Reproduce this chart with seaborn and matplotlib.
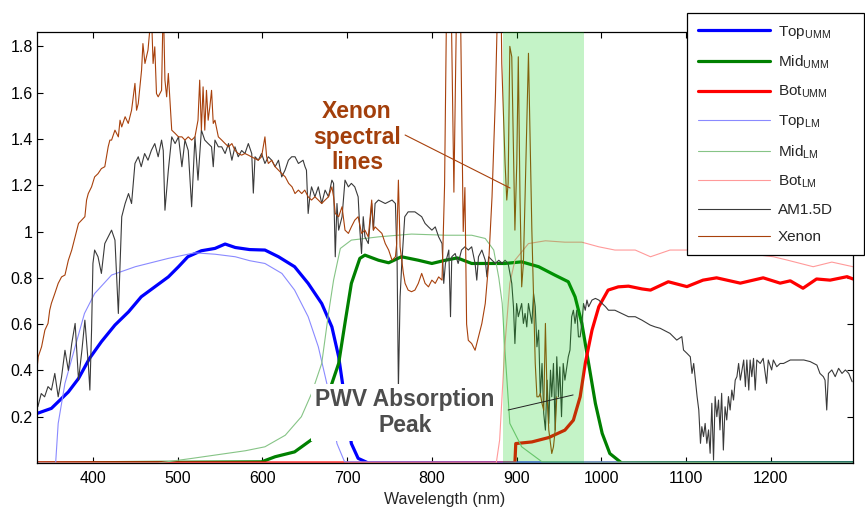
import matplotlib
matplotlib.use("Agg")
import matplotlib.pyplot as plt
import seaborn as sns
import numpy as np
import pandas as pd

# ---------------- data ----------------
top_umm_wl = [334, 351, 371, 383, 396, 410, 426, 442, 457, 473, 489, 501, 512, 528, 544, 556, 568, 585, 603, 619,
              638, 654, 670, 682, 690, 694, 705, 713, 725, 1297]
top_umm_val = [0.214, 0.236, 0.307, 0.365, 0.452, 0.524, 0.596, 0.653, 0.718, 0.761, 0.804, 0.848, 0.891, 0.917,
               0.927, 0.946, 0.931, 0.922, 0.920, 0.891, 0.848, 0.776, 0.689, 0.588, 0.459, 0.358, 0.084, 0.020,
               0.0, 0.0]

mid_umm_wl = [334, 599, 615, 638, 660, 690, 698, 705, 715, 721, 737, 749, 764, 784, 800, 816, 830, 847, 867, 886,
              906, 926, 945, 961, 969, 977, 985, 993, 1001, 1010, 1024, 1297]
mid_umm_val = [0, 0.005, 0.027, 0.048, 0.106, 0.43, 0.617, 0.776, 0.884, 0.898, 0.876, 0.865, 0.891, 0.876, 0.862,
               0.876, 0.886, 0.862, 0.862, 0.862, 0.869, 0.848, 0.812, 0.783, 0.718, 0.603, 0.43, 0.257, 0.128,
               0.041, 0, 0]

bot_umm_wl = [334, 898, 899, 918, 938, 957, 967, 975, 981, 989, 997, 1008, 1020, 1032, 1048, 1058, 1079, 1101,
              1120, 1136, 1164, 1191, 1211, 1223, 1238, 1254, 1270, 1290, 1297]
bot_umm_val = [0, 0, 0.084, 0.091, 0.11, 0.142, 0.185, 0.286, 0.43, 0.574, 0.675, 0.747, 0.761, 0.764, 0.752,
               0.747, 0.783, 0.762, 0.79, 0.80, 0.777, 0.80, 0.777, 0.787, 0.755, 0.795, 0.79, 0.805, 0.795]

top_lm_wl = [334, 356, 359, 367, 379, 390, 402, 422, 450, 489, 520, 544, 568, 585, 603, 623, 638, 654, 666, 676,
             688, 697, 1297]
top_lm_val = [0, 0, 0.171, 0.344, 0.502, 0.646, 0.732, 0.812, 0.848, 0.884, 0.908, 0.902, 0.891, 0.874, 0.862,
              0.819, 0.747, 0.632, 0.502, 0.344, 0.084, 0.005, 0]

mid_lm_wl = [334, 477, 517, 580, 603, 627, 646, 658, 670, 678, 684, 692, 705, 737, 776, 816, 833, 847, 863, 873,
             879, 883, 886, 892, 906, 930, 1297]
mid_lm_val = [0, 0, 0.02, 0.053, 0.07, 0.12, 0.20, 0.30, 0.43, 0.646, 0.79, 0.927, 0.963, 0.977, 0.989, 0.984,
              0.984, 0.984, 0.97, 0.92, 0.80, 0.69, 0.50, 0.171, 0.07, 0.005, 0]

bot_lm_wl = [334, 876, 880, 886, 892, 898, 914, 934, 957, 977, 997, 1016, 1040, 1058, 1081, 1120, 1160, 1203,
             1219, 1250, 1272, 1297]
bot_lm_val = [0, 0, 0.1, 0.5, 0.776, 0.876, 0.948, 0.96, 0.954, 0.954, 0.934, 0.92, 0.92, 0.891, 0.92, 0.92, 0.91,
              0.891, 0.877, 0.848, 0.868, 0.848]

am_wl = [335, 339, 343, 347, 351, 355, 359, 363, 367, 371,
         375, 379, 383, 387, 390.5, 394.5, 396.4, 398.4, 400, 402,
         406, 410, 414, 418, 422, 426, 430, 432, 434, 438,
         442, 445.6, 449.6, 453.5, 457, 461, 465, 469, 473, 477,
         481, 483, 485, 489, 493, 497, 501, 505, 508.6, 512.5,
         516.5, 520.4, 524, 528, 532, 536, 540, 542, 544, 548,
         552, 556, 560, 564, 567.6, 571.5, 575.5, 579.4, 583.4, 587.4,
         589.3, 591.3, 595.2, 599, 603, 607, 611, 615, 619, 622.8,
         626.7, 630.7, 634.6, 638.5, 642.5, 648, 650.3, 652, 654, 656,
         658, 662, 666, 670, 674, 678, 682, 684, 686, 688,
         690, 694, 697.5, 701.5, 705, 709, 713, 715, 717, 719,
         721, 725, 729, 731, 733, 737, 745, 753, 757, 759,
         760.5, 762.5, 764.5, 768, 772, 780, 788, 792, 796, 800,
         804, 808, 812, 814, 816, 820, 822, 823.5, 827.5, 831,
         835, 839, 843, 847, 851, 853, 855, 859, 863, 865,
         867, 871, 875, 879, 883, 886.4, 890, 894.3, 896.3, 898,
         900, 902, 906, 908, 910, 912, 914, 918, 920, 922,
         924, 926, 928, 930, 932, 934, 936, 938, 940, 941.5,
         943.5, 945.5, 947.4, 949.4, 951, 953, 955, 957, 961, 963,
         965, 967, 969, 971, 973, 975, 977, 979, 981, 983,
         985, 989, 993, 997, 1001, 1005, 1008.4, 1016, 1024, 1032,
         1040, 1048, 1057.6, 1063.5, 1069.4, 1081, 1089, 1095, 1097, 1101,
         1105, 1107, 1109, 1113, 1115, 1117, 1118.6, 1120.6, 1122.5, 1124.5,
         1126.5, 1128.4, 1130.4, 1132.4, 1134.3, 1136.3, 1138.3, 1140, 1142, 1144,
         1146, 1148, 1150, 1152, 1154, 1156, 1158, 1160, 1162, 1164,
         1168, 1170, 1171.7, 1174, 1175.6, 1177.6, 1179.6, 1181.6, 1183.5, 1187.5,
         1191, 1195, 1197, 1201, 1203, 1207, 1211, 1215, 1223, 1231,
         1239, 1246.5, 1254.4, 1258, 1262, 1264, 1266, 1268, 1272, 1276,
         1280, 1284, 1288, 1292, 1296]
am_val = [0.243, 0.30, 0.286, 0.33, 0.315, 0.387, 0.286, 0.372, 0.487, 0.40,
          0.516, 0.603, 0.358, 0.487, 0.617, 0.43, 0.315, 0.574, 0.862, 0.92,
          0.891, 0.819, 0.948, 0.977, 1.006, 0.963, 0.646, 0.862, 1.064, 1.121,
          1.164, 1.121, 1.294, 1.323, 1.28, 1.337, 1.308, 1.351, 1.38, 1.323,
          1.395, 1.35, 1.092, 1.265, 1.409, 1.38, 1.409, 1.28, 1.395, 1.35,
          1.107, 1.409, 1.222, 1.438, 1.395, 1.38, 1.366, 1.28, 1.395, 1.366,
          1.366, 1.337, 1.38, 1.308, 1.366, 1.323, 1.35, 1.337, 1.38, 1.337,
          1.166, 1.323, 1.308, 1.337, 1.294, 1.323, 1.308, 1.28, 1.308, 1.236,
          1.265, 1.308, 1.323, 1.323, 1.294, 1.308, 1.28, 1.265, 1.078, 1.15,
          1.193, 1.15, 1.193, 1.121, 1.179, 1.15, 1.222, 1.208, 0.891, 1.121,
          1.006, 1.064, 1.222, 1.193, 1.208, 1.193, 1.15, 1.006, 0.905, 1.064,
          0.977, 0.948, 1.121, 1.006, 1.121, 1.136, 1.121, 1.136, 1.121, 0.862,
          0.32, 0.718, 0.862, 1.064, 1.085, 1.085, 1.064, 1.035, 1.02, 1.006,
          1.02, 0.977, 0.948, 0.776, 0.862, 0.92, 0.632, 0.891, 0.905, 0.862,
          0.92, 0.934, 0.92, 0.934, 0.862, 0.79, 0.891, 0.92, 0.876, 0.804,
          0.891, 0.876, 0.862, 0.876, 0.862, 0.876, 0.862, 0.776, 0.675, 0.516,
          0.689, 0.632, 0.689, 0.603, 0.646, 0.588, 0.689, 0.603, 0.732, 0.675,
          0.502, 0.574, 0.286, 0.43, 0.214, 0.142, 0.358, 0.171, 0.401, 0.286,
          0.43, 0.142, 0.459, 0.286, 0.415, 0.20, 0.43, 0.358, 0.459, 0.488,
          0.632, 0.66, 0.603, 0.66, 0.545, 0.545, 0.603, 0.689, 0.66, 0.704,
          0.675, 0.704, 0.711, 0.704, 0.689, 0.675, 0.66, 0.66, 0.646, 0.632,
          0.632, 0.617, 0.596, 0.588, 0.582, 0.56, 0.531, 0.546, 0.488, 0.474,
          0.459, 0.387, 0.43, 0.287, 0.229, 0.085, 0.157, 0.114, 0.171, 0.085,
          0.143, 0.042, 0.258, 0.013, 0.287, 0.20, 0.272, 0.143, 0.301, 0.056,
          0.243, 0.186, 0.287, 0.229, 0.315, 0.272, 0.358, 0.373, 0.43, 0.358,
          0.445, 0.33, 0.445, 0.315, 0.445, 0.373, 0.452, 0.315, 0.445, 0.43,
          0.452, 0.344, 0.445, 0.402, 0.445, 0.416, 0.43, 0.43, 0.445, 0.445,
          0.445, 0.438, 0.423, 0.387, 0.373, 0.358, 0.229, 0.387, 0.402, 0.373,
          0.409, 0.387, 0.402, 0.387, 0.351]

xe_wl = [333.5, 335.4, 339.4, 343.3, 347, 349, 351, 355, 359, 363,
         367, 371, 375, 379, 383, 386.6, 390.5, 392.5, 394.5, 398.4,
         402, 406, 410, 414, 418, 420, 422, 426, 430, 432,
         434, 438, 441.7, 445.6, 449.6, 451.5, 453.5, 457.4, 459, 461.4,
         465, 469, 471, 473, 475, 477, 481, 483, 485, 487,
         489, 493, 497, 501, 505, 508.6, 512.5, 516.5, 520.4, 524,
         526, 528, 530, 532, 534, 536, 538, 540, 542, 544,
         548, 552, 556, 560, 564, 567.6, 571.5, 575.5, 579.4, 583.4,
         587, 595, 599, 603, 605, 607, 611, 615, 619, 623,
         627, 631, 635, 638.5, 642.5, 646.4, 650, 654, 658, 662,
         666, 670, 674, 678, 682, 684, 686, 690, 694, 697.5,
         701.5, 705, 709, 713, 717, 721, 725, 729, 731, 733,
         737, 741, 745, 749, 753, 757, 758.5, 760.5, 762.5, 764.5,
         766.4, 768.4, 772, 776, 780, 784, 788, 792, 796, 800,
         804, 808, 812, 815, 818, 822, 826, 830, 833, 837,
         839, 841, 843, 847, 851, 853, 855, 859, 863, 867,
         871, 875, 879, 881, 882.5, 886.4, 888.4, 890, 892, 894.3,
         898, 900.2, 902, 904, 906, 908, 910, 914, 918, 922,
         924, 926, 928, 930, 932, 934, 936, 938, 941.5, 943.5,
         945.5, 947.4]
xe_val = [0.387, 0.459, 0.502, 0.574, 0.603, 0.66, 0.69, 0.732, 0.776, 0.804,
          0.812, 0.876, 0.92, 0.977, 1.035, 1.049, 1.064, 1.136, 1.164, 1.193,
          1.236, 1.25, 1.272, 1.28, 1.366, 1.395, 1.395, 1.438, 1.409, 1.481,
          1.452, 1.496, 1.467, 1.524, 1.64, 1.524, 1.553, 1.697, 1.812, 1.726,
          1.784, 1.95, 1.726, 1.798, 1.596, 1.582, 1.61, 2.0, 1.654, 1.582,
          1.683, 1.438, 1.424, 1.409, 1.409, 1.395, 1.409, 1.395, 1.409, 1.481,
          1.654, 1.438, 1.625, 1.438, 1.61, 1.481, 1.539, 1.61, 1.467, 1.481,
          1.409, 1.395, 1.38, 1.366, 1.38, 1.351, 1.337, 1.33, 1.337, 1.33,
          1.323, 1.308, 1.323, 1.409, 1.323, 1.294, 1.308, 1.28, 1.265, 1.25,
          1.236, 1.208, 1.193, 1.164, 1.179, 1.164, 1.179, 1.15, 1.136, 1.15,
          1.136, 1.121, 1.136, 1.15, 1.193, 1.15, 1.078, 1.064, 1.107, 1.006,
          0.992, 1.02, 1.049, 1.064, 0.992, 1.006, 0.977, 1.136, 1.006, 1.02,
          1.006, 0.992, 0.948, 0.92, 0.876, 0.891, 0.948, 1.222, 0.934, 0.876,
          0.819, 0.776, 0.747, 0.74, 0.747, 0.776, 0.819, 0.776, 0.761, 0.79,
          0.776, 0.804, 0.79, 1.2, 2.2, 2.2, 1.17, 2.2, 2.2, 1.0,
          1.19, 0.6, 0.53, 0.516, 0.487, 0.516, 0.545, 0.603, 0.689, 0.862,
          1.15, 1.582, 2.2, 2.2, 1.726, 1.294, 1.136, 1.208, 1.80, 1.755,
          1.006, 1.294, 1.755, 1.15, 0.761, 0.862, 1.15, 1.77, 1.006, 0.43,
          0.286, 0.286, 0.30, 0.257, 0.228, 0.603, 0.286, 0.142, 0.041, 0.07,
          0.142, 0.286]

xticks = [400, 500, 600, 700, 800, 900, 1000, 1100, 1200]
yticks = [0.2, 0.4, 0.6, 0.8, 1.0, 1.2, 1.4, 1.6, 1.8]
ytick_labels = ["0.2", "0.4", "0.6", "0.8", "1", "1.2", "1.4", "1.6", "1.8"]

labels = [r"Top$_{\mathrm{UMM}}$", r"Mid$_{\mathrm{UMM}}$", r"Bot$_{\mathrm{UMM}}$",
          r"Top$_{\mathrm{LM}}$", r"Mid$_{\mathrm{LM}}$", r"Bot$_{\mathrm{LM}}$", "AM1.5D", "Xenon"]

# ---------------- style ----------------
sns.set_style("ticks")
plt.rcParams["font.family"] = ["Liberation Sans", "DejaVu Sans"]
plt.rcParams["mathtext.fontset"] = "custom"
plt.rcParams["mathtext.rm"] = "Liberation Sans"
plt.rcParams["mathtext.it"] = "Liberation Sans:italic"
plt.rcParams["mathtext.bf"] = "Liberation Sans:bold"

fig = plt.figure(figsize=(8.65, 5.11), dpi=100)
ax = fig.add_axes([37 / 865, 48 / 511, 816 / 865, 431 / 511])

series = [
    (top_umm_wl, top_umm_val, "#0000ff", 2.3),
    (mid_umm_wl, mid_umm_val, "#008000", 2.3),
    (bot_umm_wl, bot_umm_val, "#ff0000", 2.3),
    (top_lm_wl, top_lm_val, "#8a8aff", 0.8),
    (mid_lm_wl, mid_lm_val, "#86c486", 0.8),
    (bot_lm_wl, bot_lm_val, "#ff9a9a", 0.8),
    (am_wl, am_val, "#3a3a3a", 0.8),
    (xe_wl, xe_val, "#a8410c", 0.8),
]

handles = []
for wl, val, col, lw in series:
    df = pd.DataFrame({"wl": wl, "val": val})
    n_before = len(ax.lines)
    sns.lineplot(data=df, x="wl", y="val", ax=ax, color=col, linewidth=lw,
                 estimator=None, sort=False, legend=False)
    handles.append(ax.lines[n_before])

# PWV absorption band (semi-transparent, drawn over the lines)
ax.axvspan(884, 980, color=(0.0, 0.8, 0.05), alpha=0.23, lw=0, zorder=5)

ax.set_xlim(334, 1297)
ax.set_ylim(0, 1.862)
ax.set_xticks(xticks)
ax.set_xticklabels([str(t) for t in xticks])
ax.set_yticks(yticks)
ax.set_yticklabels(ytick_labels)
ax.tick_params(direction="in", top=True, right=True, length=4, width=0.8,
               labelsize=11.5, colors="black")
ax.tick_params(axis="x", pad=6)
ax.tick_params(axis="y", pad=3)
for s in ax.spines.values():
    s.set_linewidth(0.9)
    s.set_color("black")
ax.set_xlabel("Wavelength (nm)", fontsize=11.5, labelpad=4)
ax.set_ylabel("")

# annotations
ax.plot([768.4, 892.3], [1.417, 1.188], color="#a8410c", lw=0.8, zorder=6)
ax.text(711.7, 1.408, "Xenon\nspectral\nlines", color="#a33f0b", fontsize=16.5,
        fontweight="bold", ha="center", va="center", linespacing=1.15, zorder=7)

ax.plot([890, 966.7], [0.229, 0.294], color="#222222", lw=0.7, zorder=6)
ax.text(768, 0.218, "PWV Absorption\nPeak", color="#4d4d4d", fontsize=16.5,
        fontweight="bold", ha="center", va="center", linespacing=1.15, zorder=7,
        bbox=dict(facecolor="white", edgecolor="none", pad=3))

leg = fig.legend(handles, labels, loc="upper left",
                 bbox_to_anchor=(687 / 865, 493 / 511, 177 / 865, 0.01),
                 mode="expand", borderaxespad=0, fancybox=False, framealpha=1,
                 edgecolor="black", fontsize=11, handlelength=4.7,
                 handletextpad=0.55, labelspacing=0.85, borderpad=0.7)
leg.get_frame().set_linewidth(0.9)
leg.set_zorder(20)

fig.savefig("out.png", dpi=100)
